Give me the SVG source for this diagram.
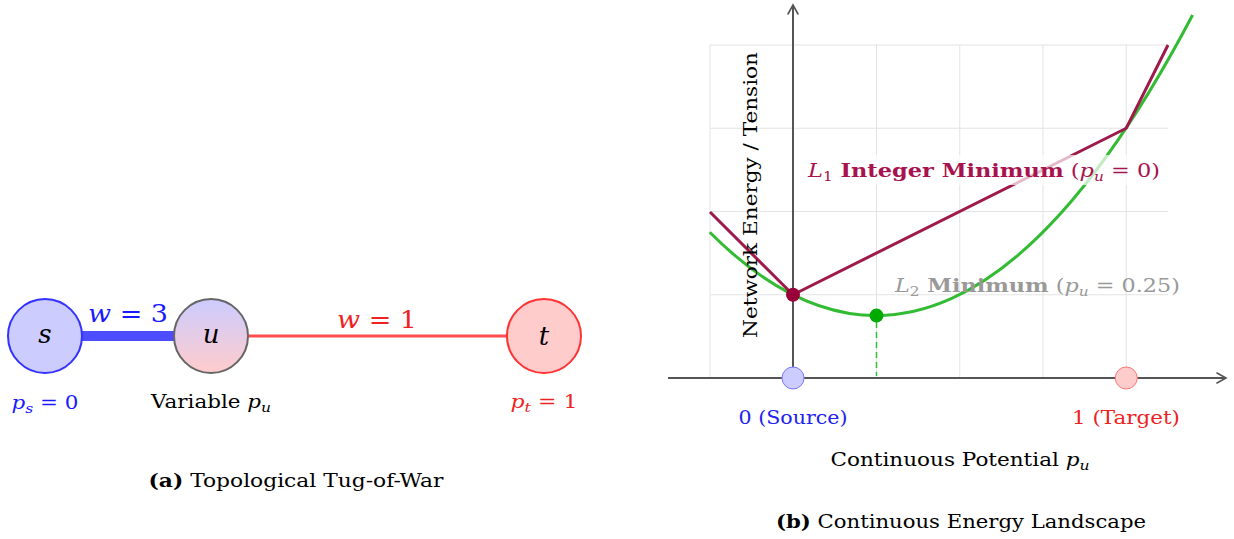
<svg xmlns="http://www.w3.org/2000/svg" width="1234" height="539" viewBox="0 0 1234 539">
<defs>
<linearGradient id="ugrad" x1="0" y1="0" x2="0" y2="1">
<stop offset="0" stop-color="#ccccff"/>
<stop offset="1" stop-color="#ffcccc"/>
</linearGradient>
<marker id="arr" viewBox="0 0 12 12" refX="10" refY="6" markerWidth="12" markerHeight="12" markerUnits="userSpaceOnUse" orient="auto">
<path d="M1,1 L10,6 L1,11" fill="none" stroke="#555" stroke-width="1.6" stroke-linecap="round"/>
</marker>
</defs>
<style>
text{font-family:"DejaVu Serif","Liberation Serif",serif;fill:#000}
.it{font-style:italic}
.b{font-weight:bold}
.grid{stroke:#e3e3e3;stroke-width:1;fill:none}
.axis{stroke:#555;stroke-width:2;fill:none}
.node-letter{font-size:26px;font-style:italic;text-anchor:middle}
.lbl{font-size:18px;text-anchor:middle}
</style>
<rect width="1234" height="539" fill="#fff"/>

<!-- Left diagram: connectors -->
<g id="connectors">
<line x1="80" y1="336" x2="176" y2="336" stroke="#4d4dff" stroke-width="10"/>
<line x1="248" y1="336" x2="507" y2="336" stroke="#ff4d4d" stroke-width="3"/>
<text x="128" y="322" class="lbl" style="font-size:25px;fill:#1a1aff" textLength="80" lengthAdjust="spacingAndGlyphs"><tspan class="it">w</tspan> = 3</text>
<text x="377" y="328" class="lbl" style="font-size:25px;fill:#ee2222" textLength="80" lengthAdjust="spacingAndGlyphs"><tspan class="it">w</tspan> = 1</text>
</g>

<g id="node-s">
<circle cx="45" cy="336" r="37" fill="#ccccff" stroke="#3333ff" stroke-width="2"/>
<text x="45" y="343" class="node-letter">s</text>
<text x="45" y="409" class="lbl" style="fill:#1a1aff" textLength="67" lengthAdjust="spacingAndGlyphs"><tspan class="it">p</tspan><tspan class="it" font-size="13" dy="4">s</tspan><tspan dy="-4"> = 0</tspan></text>
</g>

<g id="node-u">
<circle cx="211" cy="336" r="37" fill="url(#ugrad)" stroke="#666" stroke-width="2"/>
<text x="211" y="343" class="node-letter">u</text>
<text x="211" y="408" class="lbl" textLength="120" lengthAdjust="spacingAndGlyphs">Variable <tspan class="it">p</tspan><tspan class="it" font-size="13" dy="4">u</tspan></text>
</g>

<g id="node-t">
<circle cx="544" cy="336" r="37" fill="#ffcccc" stroke="#ff3333" stroke-width="2"/>
<text x="544" y="345" class="node-letter">t</text>
<text x="544" y="408" class="lbl" style="fill:#ee2222" textLength="67" lengthAdjust="spacingAndGlyphs"><tspan class="it">p</tspan><tspan class="it" font-size="13" dy="4">t</tspan><tspan dy="-4"> = 1</tspan></text>
</g>

<text x="296" y="487" class="lbl" textLength="295" lengthAdjust="spacingAndGlyphs"><tspan class="b">(a)</tspan> Topological Tug-of-War</text>

<!-- Right plot -->
<g id="plot">
<g class="grid">
<line x1="710" y1="45" x2="710" y2="378"/>
<line x1="876.5" y1="45" x2="876.5" y2="378"/>
<line x1="959.75" y1="45" x2="959.75" y2="378"/>
<line x1="1043" y1="45" x2="1043" y2="378"/>
<line x1="1126.25" y1="45" x2="1126.25" y2="378"/>
<line x1="710" y1="45" x2="1168" y2="45"/>
<line x1="710" y1="128.25" x2="1168" y2="128.25"/>
<line x1="710" y1="211.5" x2="1168" y2="211.5"/>
<line x1="710" y1="294.75" x2="1168" y2="294.75"/>
</g>
<line class="axis" x1="668" y1="378" x2="1226" y2="378" marker-end="url(#arr)"/>
<line class="axis" x1="793" y1="385" x2="793" y2="5" marker-end="url(#arr)"/>

<path d="M709.75,232.3 Q951.2,473.7 1192.6,15" fill="none" stroke="#33bb33" stroke-width="3"/>
<polyline points="710,212 793,294.75 1126.25,128.25 1168,45" fill="none" stroke="#9e1a4a" stroke-width="3" stroke-linejoin="miter"/>
<line x1="876.5" y1="322" x2="876.5" y2="376" stroke="#33bb33" stroke-width="1.5" stroke-dasharray="6,4"/>

<rect x="805" y="155" width="359" height="30" fill="#fff" fill-opacity="0.7"/>
<text x="808" y="177" style="font-size:19px;fill:#a8124e" textLength="352" lengthAdjust="spacingAndGlyphs"><tspan class="it">L</tspan><tspan font-size="13" dy="4">1</tspan><tspan dy="-4" class="b"> Integer Minimum</tspan> (<tspan class="it">p</tspan><tspan class="it" font-size="13" dy="4">u</tspan><tspan dy="-4"> = 0)</tspan></text>
<text x="895" y="292" style="font-size:19px;fill:#999" textLength="285" lengthAdjust="spacingAndGlyphs"><tspan class="it">L</tspan><tspan font-size="13" dy="4">2</tspan><tspan dy="-4" class="b"> Minimum</tspan> (<tspan class="it">p</tspan><tspan class="it" font-size="13" dy="4">u</tspan><tspan dy="-4"> = 0.25)</tspan></text>

<circle cx="793" cy="294.75" r="7" fill="#99003a"/>
<circle cx="876.5" cy="315.6" r="7" fill="#00aa00"/>
<circle cx="793" cy="378" r="11" fill="#ccccff" stroke="#7777ff" stroke-width="1"/>
<circle cx="1126.25" cy="378" r="11" fill="#ffcccc" stroke="#ff7777" stroke-width="1"/>

<text x="793" y="424" class="lbl" style="fill:#2222ee" textLength="109" lengthAdjust="spacingAndGlyphs">0 (Source)</text>
<text x="1126" y="424" class="lbl" style="fill:#ee2222" textLength="108" lengthAdjust="spacingAndGlyphs">1 (Target)</text>
<text x="960" y="466" class="lbl" textLength="259" lengthAdjust="spacingAndGlyphs">Continuous Potential <tspan class="it">p</tspan><tspan class="it" font-size="13" dy="4">u</tspan></text>
<text transform="translate(757,195) rotate(-90)" class="lbl" textLength="286" lengthAdjust="spacingAndGlyphs">Network Energy / Tension</text>
</g>

<text x="961" y="528" class="lbl" textLength="370" lengthAdjust="spacingAndGlyphs"><tspan class="b">(b)</tspan> Continuous Energy Landscape</text>
</svg>
